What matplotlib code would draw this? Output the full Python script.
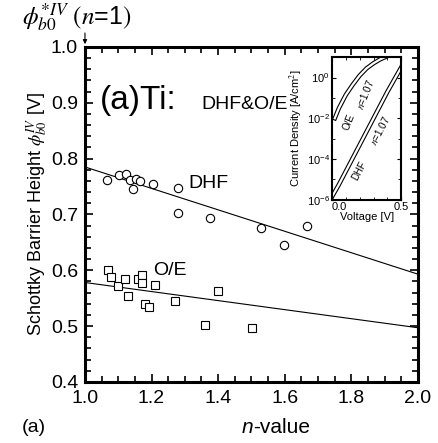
import numpy as np
import matplotlib.pyplot as plt
from matplotlib.ticker import MultipleLocator, LogLocator, NullFormatter

plt.rcParams['font.family'] = ['Liberation Sans', 'DejaVu Sans']
plt.rcParams['mathtext.fontset'] = 'stix'

# -----------------------------
# Data
# -----------------------------
# DHF samples (circles)
n_dhf = [1.067, 1.103, 1.122, 1.135, 1.145, 1.153, 1.165, 1.205, 1.278,
         1.280, 1.377, 1.530, 1.598, 1.668]
phi_dhf = [0.762, 0.771, 0.772, 0.762, 0.746, 0.763, 0.759, 0.755, 0.748,
           0.703, 0.694, 0.676, 0.645, 0.680]

# O/E samples (squares)
n_oe = [1.070, 1.078, 1.100, 1.121, 1.130, 1.158, 1.171, 1.171, 1.181,
        1.191, 1.211, 1.271, 1.361, 1.401, 1.502]
phi_oe = [0.600, 0.588, 0.572, 0.585, 0.553, 0.584, 0.592, 0.577, 0.539,
          0.535, 0.574, 0.544, 0.501, 0.563, 0.496]

# fit lines (end points at n=1 and n=2)
fit_n = [1.0, 2.0]
fit_dhf = [0.785, 0.593]
fit_oe = [0.578, 0.497]

# inset J-V curves
v_dhf = [0.0, 0.05, 0.1, 0.15, 0.2, 0.25, 0.3, 0.35, 0.4, 0.45, 0.5]
logj_dhf = [-5.85, -5.25, -4.6, -3.95, -3.3, -2.65, -2.0, -1.35, -0.7, -0.1, 0.5]
v_oe = [0.02, 0.05, 0.1, 0.15, 0.2, 0.25, 0.3, 0.35, 0.4]
logj_oe = [-2.0, -1.5, -0.85, -0.35, 0.1, 0.45, 0.7, 0.9, 1.05]

# -----------------------------
# Main plot
# -----------------------------
fig = plt.figure(figsize=(4.38, 4.43), dpi=100)
ax = fig.add_axes([0.194, 0.138, 0.760, 0.756])

ax.plot(fit_n, fit_dhf, color='black', lw=0.8)
ax.plot(fit_n, fit_oe, color='black', lw=0.8)
ax.plot(n_dhf, phi_dhf, 'o', ms=6, mfc='white', mec='black', mew=0.8)
ax.plot(n_oe, phi_oe, 's', ms=5.5, mfc='white', mec='black', mew=0.8)

ax.set_xlim(1.0, 2.0)
ax.set_ylim(0.4, 1.0)
ax.xaxis.set_major_locator(MultipleLocator(0.2))
ax.xaxis.set_minor_locator(MultipleLocator(0.05))
ax.yaxis.set_major_locator(MultipleLocator(0.1))
ax.yaxis.set_minor_locator(MultipleLocator(0.02))
ax.xaxis.set_major_formatter(plt.FuncFormatter(lambda v, p: f"{v:.1f}"))
ax.yaxis.set_major_formatter(plt.FuncFormatter(lambda v, p: f"{v:.1f}"))
ax.tick_params(which='both', direction='in', top=True, right=True, labelsize=14, width=1.2)
ax.tick_params(which='major', length=6)
ax.tick_params(which='minor', length=4)
ax.tick_params(axis='x', which='major', pad=6)
ax.tick_params(axis='y', which='major', pad=5)
for s in ax.spines.values():
    s.set_linewidth(2.2)

ax.set_ylabel(r"Schottky Barrier Height $\phi_{b0}^{IV}$ [V]", fontsize=13, labelpad=1)

# x label with italic n
fig.text(0.578, 0.035, "-value", fontsize=15, ha='left', va='center')
fig.text(0.578, 0.035, "n", fontsize=15, ha='right', va='center', style='italic')
fig.text(0.05, 0.035, "(a)", fontsize=14, ha='left', va='center')

ax.text(1.045, 0.888, "(a)Ti:", fontsize=24, va='baseline')
ax.text(1.35, 0.888, "DHF&O/E", fontsize=14, va='baseline')
ax.text(1.31, 0.755, "DHF", fontsize=14, va='center')
ax.text(1.205, 0.600, "O/E", fontsize=14, va='center')

# annotation above the axes
ax.annotate("", xy=(1.0, 1.0), xytext=(1.0, 1.03), xycoords='data',
            arrowprops=dict(arrowstyle='-|>', color='black', lw=0.8,
                            mutation_scale=6), annotation_clip=False)
fig.text(0.05, 0.962, r"$\phi_{b0}^{*IV}\ (n$=1$)$", fontsize=18, ha='left', va='center')

# -----------------------------
# Inset
# -----------------------------
axi = fig.add_axes([0.758, 0.549, 0.158, 0.322])
axi.plot(v_dhf, np.power(10.0, logj_dhf), color='black', lw=3.2)
axi.plot(v_dhf, np.power(10.0, logj_dhf), color='white', lw=1.6)
axi.plot(v_oe, np.power(10.0, logj_oe), color='black', lw=3.2)
axi.plot(v_oe, np.power(10.0, logj_oe), color='white', lw=1.6)
axi.set_yscale('log')
axi.set_xlim(0.0, 0.5)
axi.set_ylim(1e-6, 10)
axi.set_xticks([0.0, 0.5])
axi.set_xticklabels(["0.0", "0.5"])
axi.get_xticklabels()[0].set_horizontalalignment('left')
axi.xaxis.set_minor_locator(MultipleLocator(0.1))
axi.set_yticks([1e-6, 1e-4, 1e-2, 1e0])
axi.yaxis.set_minor_locator(LogLocator(base=10, subs=[1.0], numticks=20))
axi.yaxis.set_minor_formatter(NullFormatter())
axi.tick_params(which='both', direction='in', top=True, right=True, labelsize=8, pad=1.5)
axi.tick_params(which='major', length=3)
axi.tick_params(which='minor', length=2)
for s in axi.spines.values():
    s.set_linewidth(1.5)
axi.set_xlabel("Voltage [V]", fontsize=8, labelpad=0)
axi.set_ylabel(r"Current Density [A/cm$^2$]", fontsize=8, labelpad=1)

axi.text(0.12, 10**-2.2, "O/E", fontsize=7, rotation=68, ha='center', va='center')
axi.text(0.24, 10**-0.85, r"$n$=1.07", fontsize=7, rotation=68, ha='center', va='center')
axi.text(0.20, 10**-4.6, "DHF", fontsize=7, rotation=62, ha='center', va='center')
axi.text(0.35, 10**-2.6, r"$n$=1.07", fontsize=7, rotation=62, ha='center', va='center')

fig.savefig("out.png", dpi=100)
